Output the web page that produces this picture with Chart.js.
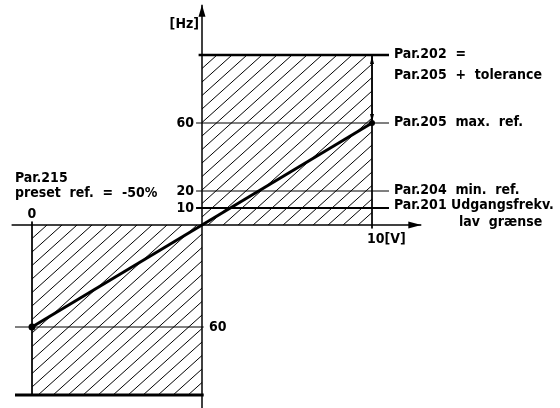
<!DOCTYPE html>
<html>
<head>
<meta charset="utf-8">
<script src="https://cdn.jsdelivr.net/npm/chart.js@4.4.1/dist/chart.umd.min.js"></script>
<style>
  html, body { margin: 0; padding: 0; background: #fff; }
  #chart { display: block; }
</style>
</head>
<body>
<canvas id="chart" width="560" height="408"></canvas>
<script>
// reference line: input [V] -> output [Hz]
const refVolts = [-10, 0, 10];
const refHz = [-60, 0, 60];

// horizontal levels above and below the V axis
const upperLevels = [100, 60, 20, 10];
const upperTickLabels = ['', '60', '20', '10'];
const lowerLevels = [-60, -100];
const lowerTickLabels = ['60', ''];

// hatched regions
const boxVolts = [[0, 10], [-10, 0]];
const boxHz = [[0, 100], [-100, 0]];

// where the leader lines stop / where the axes run
const leaderEnd = 11;
const lowerStart = -11;
const axisVolts = [-11.2, 12.9];
const axisHz = [-110, 129.5];

// notes at the end of the leader lines (one per upper level)
const notes = [
  ['Par.202  =', 'Par.205  +  tolerance'],
  ['Par.205  max.  ref.'],
  ['Par.204  min.  ref.'],
  ['Par.201 Udgangsfrekv.', 'lav  grænse'],
];
const leftNote = ['Par.215', 'preset  ref.  =  -50%'];

const upperWidths = [2.5, 1, 1, 2];
const lowerWidths = [1, 3];
const FONT = 'bold 14px "DejaVu Sans Condensed"';

function seg(x0, y0, x1, y1, width) {
  return {
    data: [{ x: x0, y: y0 }, { x: x1, y: y1 }],
    borderColor: '#000',
    borderWidth: width,
    pointRadius: 0,
    tension: 0
  };
}

const datasets = [];
// axes
datasets.push(seg(axisVolts[0], 0, axisVolts[1], 0, 1.5));
datasets.push(seg(0, axisHz[0], 0, axisHz[1], 1.5));
// upper levels with leaders
upperLevels.forEach((lv, i) => {
  const start = upperTickLabels[i] ? -0.35 : -0.2;
  datasets.push(seg(start, lv, leaderEnd, lv, upperWidths[i]));
});
// lower levels
lowerLevels.forEach((lv, i) => {
  datasets.push(seg(lowerStart, lv, 0.1, lv, lowerWidths[i]));
});
// box side edges
datasets.push(seg(boxVolts[0][1], boxHz[0][1], boxVolts[0][1], -2, 1));
datasets.push(seg(boxVolts[1][0], 2, boxVolts[1][0], boxHz[1][0], 1));
// reference line
datasets.push({
  data: refVolts.map((v, i) => ({ x: v, y: refHz[i] })),
  borderColor: '#000',
  backgroundColor: '#000',
  borderWidth: 3,
  pointRadius: [2, 0, 1.5],
  tension: 0
});

function arrow(ctx, x, y, dx, dy, len, half) {
  // tip at (x,y), pointing in direction (dx,dy)
  const bx = x - dx * len, by = y - dy * len;
  ctx.beginPath();
  ctx.moveTo(x, y);
  ctx.lineTo(bx - dy * half, by + dx * half);
  ctx.lineTo(bx + dy * half, by - dx * half);
  ctx.closePath();
  ctx.fill();
}

const diagramPlugin = {
  id: 'diagram',
  beforeDatasetsDraw(chart) {
    const { ctx, scales: { x, y } } = chart;
    ctx.save();
    ctx.strokeStyle = '#000';
    ctx.lineWidth = 1;
    boxVolts.forEach((bv, i) => {
      const l = x.getPixelForValue(bv[0]), r = x.getPixelForValue(bv[1]);
      const t = y.getPixelForValue(boxHz[i][1]), b = y.getPixelForValue(boxHz[i][0]);
      const h = b - t;
      const run = h / 0.9;
      ctx.save();
      ctx.beginPath();
      ctx.rect(l, t, r - l, h);
      ctx.clip();
      ctx.beginPath();
      for (let k = -run; k < r - l + 15; k += 15) {
        ctx.moveTo(l + k, b);
        ctx.lineTo(l + k + run, t);
      }
      ctx.stroke();
      ctx.restore();
    });
    ctx.restore();
  },
  afterDraw(chart) {
    const { ctx, scales: { x, y } } = chart;
    const x0 = x.getPixelForValue(0), y0 = y.getPixelForValue(0);
    ctx.save();
    ctx.fillStyle = '#000';
    ctx.strokeStyle = '#000';

    // axis arrows
    arrow(ctx, x0, y.getPixelForValue(axisHz[1]), 0, -1, 12, 3.5);
    arrow(ctx, x.getPixelForValue(axisVolts[1]), y0, 1, 0, 13, 3.5);

    // tolerance double arrow
    const xr = x.getPixelForValue(boxVolts[0][1]);
    const yTop = y.getPixelForValue(upperLevels[0]);
    const yMax = y.getPixelForValue(upperLevels[1]);
    ctx.lineWidth = 1;
    ctx.beginPath();
    ctx.moveTo(xr, yTop);
    ctx.lineTo(xr, yMax);
    ctx.stroke();
    arrow(ctx, xr, yTop + 1, 0, -1, 8, 2);
    arrow(ctx, xr, yMax - 1, 0, 1, 8, 2);

    ctx.font = FONT;
    ctx.textBaseline = 'middle';

    // tick labels on the Hz axis
    ctx.textAlign = 'right';
    upperLevels.forEach((lv, i) => {
      if (upperTickLabels[i]) ctx.fillText(upperTickLabels[i], x0 - 8, y.getPixelForValue(lv));
    });
    ctx.fillText('[Hz]', x0 - 3, y.getPixelForValue(axisHz[1]) + 20);
    ctx.textAlign = 'left';
    lowerLevels.forEach((lv, i) => {
      if (lowerTickLabels[i]) ctx.fillText(lowerTickLabels[i], x0 + 7, y.getPixelForValue(lv));
    });

    // V axis labels
    ctx.textAlign = 'center';
    ctx.fillText('0', x.getPixelForValue(boxVolts[1][0]), y0 - 11);
    ctx.textAlign = 'left';
    ctx.fillText('10[V]', xr - 5, y0 + 14);

    // notes on the right
    const nx = x.getPixelForValue(leaderEnd) + 5;
    notes.forEach((lines, i) => {
      const ly = y.getPixelForValue(upperLevels[i]);
      if (i === 3) {
        ctx.fillText(lines[0], nx, ly - 3);
        ctx.fillText(lines[1], nx + 65, ly + 14);
      } else {
        lines.forEach((s, j) => ctx.fillText(s, nx, ly - 1 + j * 21));
      }
    });

    // note on the left
    ctx.fillText(leftNote[0], 15, y0 - 47);
    ctx.fillText(leftNote[1], 15, y0 - 32);
    ctx.restore();
  }
};

new Chart(document.getElementById('chart'), {
  type: 'line',
  data: { datasets },
  options: {
    responsive: false,
    animation: false,
    devicePixelRatio: 1,
    layout: { padding: 0, autoPadding: false },
    plugins: { legend: { display: false }, tooltip: { enabled: false } },
    scales: {
      x: { type: 'linear', display: false, min: -202 / 17, max: 358 / 17 },
      y: { type: 'linear', display: false, min: -183 / 1.7, max: 225 / 1.7 }
    }
  },
  plugins: [diagramPlugin]
});
</script>
</body>
</html>
